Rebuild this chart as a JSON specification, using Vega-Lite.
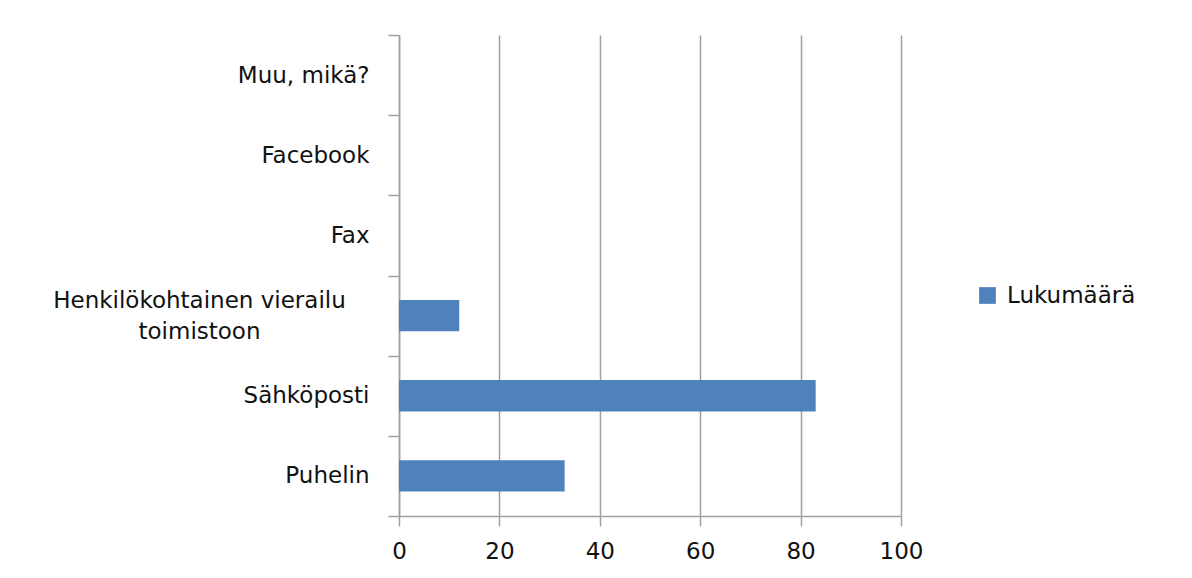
{
  "$schema": "https://vega.github.io/schema/vega-lite/v6.json",
  "width": 502,
  "height": 481,
  "autosize": {"type": "none"},
  "padding": {"left": 399, "top": 35, "right": 291, "bottom": 62},
  "background": "white",
  "data": {
    "values": [
      {"kanava": "Muu, mikä?", "sarja": "Lukumäärä", "lukumaara": 0},
      {"kanava": "Facebook", "sarja": "Lukumäärä", "lukumaara": 0},
      {"kanava": "Fax", "sarja": "Lukumäärä", "lukumaara": 0},
      {"kanava": "Henkilökohtainen vierailu toimistoon", "sarja": "Lukumäärä", "lukumaara": 12},
      {"kanava": "Sähköposti", "sarja": "Lukumäärä", "lukumaara": 83},
      {"kanava": "Puhelin", "sarja": "Lukumäärä", "lukumaara": 33}
    ]
  },
  "mark": {"type": "bar", "height": {"band": 0.39}},
  "encoding": {
    "y": {
      "field": "kanava",
      "type": "nominal",
      "sort": ["Muu, mikä?", "Facebook", "Fax", "Henkilökohtainen vierailu toimistoon", "Sähköposti", "Puhelin"],
      "scale": {"paddingInner": 0, "paddingOuter": 0},
      "axis": {
        "title": null,
        "grid": false,
        "tickBand": "extent",
        "domainColor": "#A0A0A0",
        "domainWidth": 1.5,
        "tickColor": "#A0A0A0",
        "tickWidth": 1.5,
        "tickSize": 11,
        "labelFont": "DejaVu Sans",
        "labelFontSize": 23,
        "labelColor": "#111111",
        "labelLimit": 0,
        "labelLineHeight": 31,
        "labelExpr": "datum.value === 'Henkilökohtainen vierailu toimistoon' ? ['Henkilökohtainen vierailu', 'toimistoon'] : datum.value",
        "labelAlign": {"condition": {"test": "datum.value === 'Henkilökohtainen vierailu toimistoon'", "value": "center"}, "value": "right"},
        "labelPadding": {"condition": {"test": "datum.value === 'Henkilökohtainen vierailu toimistoon'", "value": 189}, "value": 19},
        "labelOffset": {"condition": {"test": "datum.value === 'Henkilökohtainen vierailu toimistoon'", "value": -15}, "value": 0}
      }
    },
    "x": {
      "field": "lukumaara",
      "type": "quantitative",
      "scale": {"domain": [0, 100], "nice": false},
      "axis": {
        "title": null,
        "values": [0, 20, 40, 60, 80, 100],
        "grid": true,
        "gridColor": "#A0A0A0",
        "gridWidth": 1.5,
        "domainColor": "#A0A0A0",
        "domainWidth": 1.5,
        "tickColor": "#A0A0A0",
        "tickWidth": 1.5,
        "tickSize": 10,
        "labelFont": "DejaVu Sans",
        "labelFontSize": 23,
        "labelColor": "#111111",
        "labelPadding": 14,
        "labelFlush": false
      }
    },
    "color": {
      "field": "sarja",
      "type": "nominal",
      "scale": {"range": ["#4F81BD"]},
      "legend": {
        "title": null,
        "orient": "none",
        "legendX": 577,
        "legendY": 249,
        "padding": 0,
        "symbolType": "square",
        "symbolSize": 280,
        "symbolStrokeWidth": 0,
        "labelFont": "DejaVu Sans",
        "labelFontSize": 23,
        "labelColor": "#111111",
        "labelOffset": 8
      }
    }
  },
  "config": {"view": {"stroke": null}}
}
